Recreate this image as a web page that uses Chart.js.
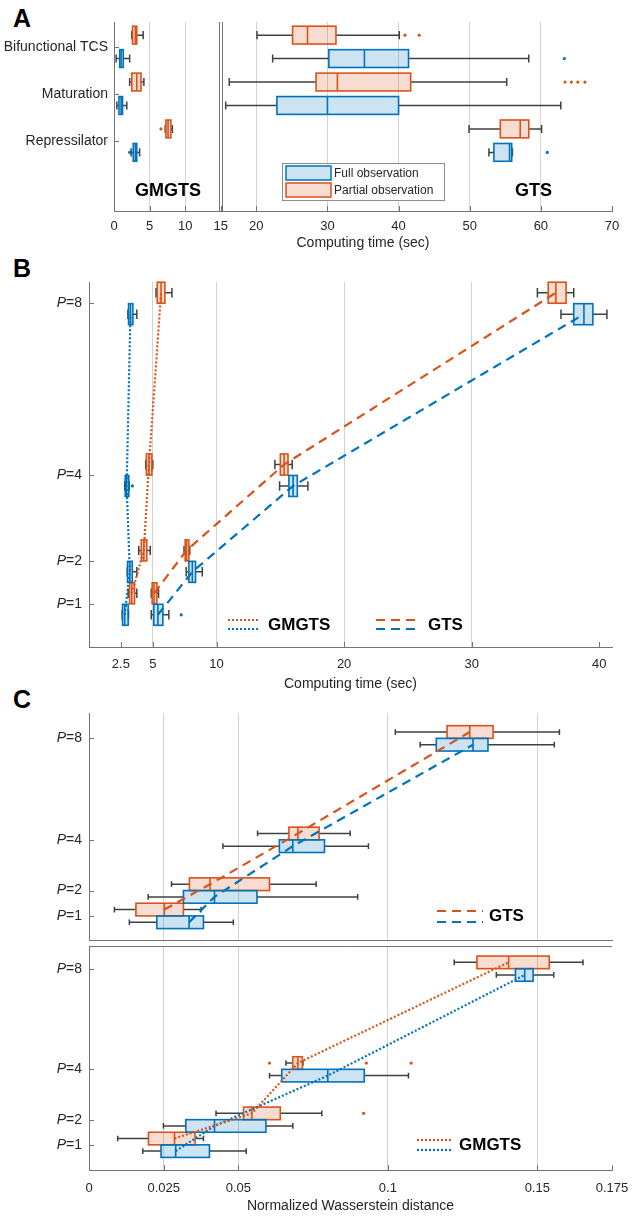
<!DOCTYPE html>
<html>
<head>
<meta charset="utf-8">
<script src="https://cdn.jsdelivr.net/npm/chart.js@4.4.1/dist/chart.umd.min.js"></script>
<style>
  body { margin: 0; background: #fff; width: 633px; height: 1218px; position: relative; overflow: hidden; }
  canvas { position: absolute; left: 0; }
  .letter { position: absolute; left: 13px; font: bold 25px "Liberation Sans", Arial, sans-serif; color: #000; line-height: 1; }
</style>
</head>
<body>
<div class="letter" style="top:6px">A</div>
<div class="letter" style="top:256px">B</div>
<div class="letter" style="top:687px">C</div>
<canvas id="chartA" width="633" height="252" style="top:0"></canvas>
<canvas id="chartB" width="633" height="450" style="top:250px"></canvas>
<canvas id="chartC1" width="633" height="245" style="top:700px"></canvas>
<canvas id="chartC2" width="633" height="276" style="top:942px"></canvas>
<script>
// ===== data =====
// every box row: [lower whisker, Q1, median, Q3, upper whisker]

// panel A - computing time per model
const aCategories = ['Bifunctional TCS', 'Maturation', 'Repressilator'];
const aTicks = [0, 5, 10, 15, 20, 30, 40, 50, 60, 70];
const aGrid = [5, 10, 20, 30, 40, 50, 60];
const aGmgtsPartial = [
    [2.5, 2.6, 3.0, 3.2, 4.1],
    [2.2, 2.5, 3.2, 3.8, 4.2],
    [7.2, 7.3, 7.6, 8.0, 8.2]
];
const aGmgtsFull = [
    [0.3, 0.8, 1.0, 1.3, 2.2],
    [0.4, 0.7, 1.0, 1.2, 1.8],
    [2.4, 2.7, 3.0, 3.2, 3.6]
];
const aGtsPartial = [
    [20.1, 25.1, 27.2, 31.2, 40.1],
    [16.2, 28.4, 31.4, 41.7, 55.2],
    [49.9, 54.3, 57.1, 58.3, 60.1]
];
const aGtsFull = [
    [22.3, 30.2, 35.2, 41.4, 58.3],
    [15.7, 22.9, 30.0, 40.0, 62.8],
    [52.7, 53.4, 55.6, 55.9, 56.0]
];
const aOutPartialX = [40.9, 42.9, 63.4, 64.3, 65.2, 66.2, 6.6];
const aOutPartialCat = [1, 1, 2, 2, 2, 2, 3];
const aOutFullX = [63.3, 2.2, 60.9];
const aOutFullCat = [1, 3, 3];

// panel B - computing time vs number of parallel workers P
const pValues = [1, 2, 4, 8];
const bTicks = [2.5, 5, 10, 20, 30, 40];
const bGrid = [5, 10, 20, 30];
const bGmgtsPartial = [
    [3.07, 3.18, 3.35, 3.57, 3.75],
    [3.9, 4.1, 4.3, 4.53, 4.8],
    [4.45, 4.5, 4.7, 4.93, 5.0],
    [5.25, 5.35, 5.65, 5.95, 6.5]
];
const bGmgtsFull = [
    [2.6, 2.63, 2.8, 3.07, 3.1],
    [3.0, 3.02, 3.2, 3.39, 3.75],
    [2.8, 2.84, 2.95, 3.12, 3.15],
    [3.05, 3.1, 3.25, 3.44, 3.75]
];
const bGtsPartial = [
    [4.88, 4.95, 5.1, 5.32, 5.45],
    [7.45, 7.54, 7.65, 7.83, 7.9],
    [14.57, 15.0, 15.3, 15.6, 15.93],
    [35.15, 36.0, 36.6, 37.4, 38.0]
];
const bGtsFull = [
    [4.88, 5.08, 5.4, 5.79, 6.26],
    [7.62, 7.83, 8.1, 8.35, 8.88],
    [14.94, 15.67, 16.0, 16.33, 17.16],
    [37.0, 38.0, 38.8, 39.5, 40.6]
];
const bOutFullX = [7.23, 3.4];
const bOutFullP = [1, 4];

// panel C - normalized Wasserstein distance
const cTicks = [0, 0.025, 0.05, 0.1, 0.15, 0.175];
const cGrid = [0.025, 0.05, 0.1, 0.15];
const cGtsPartial = [
    [0.0085, 0.0157, 0.0252, 0.0316, 0.0375],
    [0.0276, 0.0336, 0.0405, 0.0604, 0.0760],
    [0.0564, 0.0669, 0.0699, 0.0770, 0.0874],
    [0.1025, 0.1198, 0.1274, 0.1352, 0.1574]
];
const cGtsFull = [
    [0.0135, 0.0227, 0.0335, 0.0383, 0.0483],
    [0.0198, 0.0316, 0.0420, 0.0562, 0.0899],
    [0.0448, 0.0637, 0.0682, 0.0788, 0.0935],
    [0.1108, 0.1162, 0.1285, 0.1335, 0.1557]
];
const cGmgtsPartial = [
    [0.0096, 0.0199, 0.0286, 0.0355, 0.0383],
    [0.0425, 0.0517, 0.0545, 0.0640, 0.0779],
    [0.0659, 0.0682, 0.0699, 0.0714, 0.0716],
    [0.1222, 0.1298, 0.1404, 0.1540, 0.1653]
];
const cGmgtsFull = [
    [0.0180, 0.0241, 0.0290, 0.0403, 0.0526],
    [0.0249, 0.0324, 0.0420, 0.0592, 0.0682],
    [0.0604, 0.0645, 0.0799, 0.0921, 0.1069],
    [0.1363, 0.1427, 0.1458, 0.1486, 0.1555]
];
const cOutGmgtsPartialX = [0.0919, 0.0604, 0.0928, 0.1078];
const cOutGmgtsPartialP = [2, 4, 4, 4];

// ===== style =====
const ORANGE = '#D95319';
const BLUE = '#0072BD';
const ORANGE_FILL = 'rgba(217, 83, 25, 0.2)';
const BLUE_FILL = 'rgba(0, 114, 189, 0.2)';
const WHISKER = '#404040';
const AXIS = '#737373';
const GRID = '#d2d2d2';
const TEXT = '#262626';
const FONT = '"Liberation Sans", Arial, Helvetica, sans-serif';
const DOTTED = [2, 2];
const DASHED = [9, 6];

Chart.defaults.font.family = FONT;
Chart.defaults.font.size = 13;
Chart.defaults.color = TEXT;

// draws the box plots through the chart's own scales
function boxPlugin(groups) {
    return {
        id: 'boxes',
        beforeDatasetsDraw(chart) {
            const {ctx, scales: {x, y}} = chart;
            ctx.save();
            groups.forEach(g => {
                g.stats.forEach((s, i) => {
                    const pos = g.pos[i] + g.shift;
                    const yc = y.getPixelForValue(pos);
                    const h = Math.abs(y.getPixelForValue(pos + g.half) - yc);
                    const [lo, q1, med, q3, hi] = s.map(v => x.getPixelForValue(v));
                    const cap = h * 0.45;
                    ctx.strokeStyle = WHISKER;
                    ctx.lineWidth = 1.5;
                    ctx.beginPath();
                    ctx.moveTo(lo, yc); ctx.lineTo(q1, yc);
                    ctx.moveTo(q3, yc); ctx.lineTo(hi, yc);
                    ctx.moveTo(lo, yc - cap); ctx.lineTo(lo, yc + cap);
                    ctx.moveTo(hi, yc - cap); ctx.lineTo(hi, yc + cap);
                    ctx.stroke();
                    ctx.fillStyle = g.fill;
                    ctx.fillRect(q1, yc - h, q3 - q1, 2 * h);
                    ctx.strokeStyle = g.edge;
                    ctx.lineWidth = 1.6;
                    ctx.strokeRect(q1, yc - h, q3 - q1, 2 * h);
                    ctx.beginPath();
                    ctx.moveTo(med, yc - h); ctx.lineTo(med, yc + h);
                    ctx.stroke();
                });
            });
            ctx.restore();
        }
    };
}

// matlab-ish inward ticks, italic P labels, breaks and legends
function framePlugin(o) {
    return {
        id: 'frame',
        afterDraw(chart) {
            const {ctx, chartArea: a, scales: {x, y}} = chart;
            ctx.save();
            ctx.strokeStyle = AXIS;
            ctx.lineWidth = 1;
            ctx.beginPath();
            if (o.xTicks) {
                x.ticks.forEach(t => {
                    const px = Math.round(x.getPixelForValue(t.value)) + 0.5;
                    ctx.moveTo(px, a.bottom); ctx.lineTo(px, a.bottom - 5);
                });
            }
            y.ticks.forEach(t => {
                const py = Math.round(y.getPixelForValue(t.value)) + 0.5;
                ctx.moveTo(a.left, py); ctx.lineTo(a.left + 5, py);
            });
            if (o.topLine) {
                ctx.moveTo(a.left, a.top + 0.5); ctx.lineTo(a.right, a.top + 0.5);
            }
            if (o.breakAt !== undefined) {
                const px = Math.round(x.getPixelForValue(o.breakAt));
                ctx.moveTo(px - 1.5, a.top); ctx.lineTo(px - 1.5, a.bottom);
                ctx.moveTo(px + 1.5, a.top); ctx.lineTo(px + 1.5, a.bottom);
            }
            ctx.stroke();

            if (o.pLabels) {
                ctx.fillStyle = TEXT;
                ctx.textBaseline = 'middle';
                ctx.textAlign = 'left';
                y.ticks.forEach(t => {
                    const py = y.getPixelForValue(t.value);
                    const rest = '=' + t.value;
                    ctx.font = '14px ' + FONT;
                    const wRest = ctx.measureText(rest).width;
                    ctx.font = 'italic 14px ' + FONT;
                    const wP = ctx.measureText('P').width;
                    const x0 = a.left - 7 - wRest - wP;
                    ctx.fillText('P', x0, py);
                    ctx.font = '14px ' + FONT;
                    ctx.fillText(rest, x0 + wP, py);
                });
            }
            if (o.legend) o.legend(ctx, a);
            ctx.restore();
        }
    };
}

function lineKey(ctx, x0, x1, yOrange, yBlue, dash) {
    ctx.lineWidth = 2.2;
    ctx.setLineDash(dash);
    ctx.strokeStyle = ORANGE;
    ctx.beginPath(); ctx.moveTo(x0, yOrange); ctx.lineTo(x1, yOrange); ctx.stroke();
    ctx.strokeStyle = BLUE;
    ctx.beginPath(); ctx.moveTo(x0, yBlue); ctx.lineTo(x1, yBlue); ctx.stroke();
    ctx.setLineDash([]);
}

function boldLabel(ctx, text, x0, yc) {
    ctx.fillStyle = '#000';
    ctx.font = 'bold 17px ' + FONT;
    ctx.textAlign = 'left';
    ctx.textBaseline = 'middle';
    ctx.fillText(text, x0, yc);
}

function xAxis(min, max, ticks, grid, opts) {
    return {
        type: 'linear', min: min, max: max,
        afterBuildTicks: s => { s.ticks = ticks.map(v => ({value: v})); },
        afterFit: s => {
            s.height = opts.height;
            // keep the plot width fixed, the label overhang fits in the layout padding
            s.paddingLeft = 0;
            s.paddingRight = 0;
        },
        ticks: {display: opts.labels, padding: opts.pad || 8, callback: v => String(v), maxRotation: 0, autoSkip: false, font: {size: 13}},
        grid: {drawTicks: false, color: c => grid.includes(c.tick.value) ? GRID : 'rgba(0,0,0,0)'},
        border: {color: AXIS, width: 1},
        title: opts.title ? {display: true, text: opts.title, padding: 0, font: {size: 14}, color: TEXT} : {display: false}
    };
}

function pAxis(min, max) {
    return {
        type: 'linear', min: min, max: max,
        afterBuildTicks: s => { s.ticks = pValues.map(v => ({value: v})); },
        afterFit: s => { s.width = 89; },
        ticks: {display: false},
        grid: {display: false, drawTicks: false},
        border: {color: AXIS, width: 1}
    };
}

function medianLine(stats, pos, shift, color, dash) {
    return {
        type: 'line',
        data: stats.map((s, i) => ({x: s[2], y: pos[i] + shift})),
        borderColor: color, borderWidth: 2.2, borderDash: dash,
        pointRadius: 0, fill: false, showLine: true, tension: 0
    };
}

function outliers(xs, pos, shift, color) {
    return {
        type: 'scatter',
        data: xs.map((v, i) => ({x: v, y: pos[i] + shift})),
        backgroundColor: color, borderWidth: 0, pointRadius: 1.6
    };
}

const baseOptions = {
    responsive: false,
    animation: false,
    events: [],
    plugins: {legend: {display: false}, tooltip: {enabled: false}}
};

// ===== panel A =====
new Chart(document.getElementById('chartA'), {
    type: 'scatter',
    data: {
        datasets: [
            outliers(aOutPartialX, aOutPartialCat, -0.25, ORANGE),
            outliers(aOutFullX, aOutFullCat, 0.25, BLUE)
        ]
    },
    options: {
        ...baseOptions,
        layout: {padding: {top: 22, right: 21, bottom: 0, left: 0}},
        scales: {
            x: xAxis(0, 70, aTicks, aGrid, {height: 41, labels: true, title: 'Computing time (sec)'}),
            y: {
                type: 'linear', reverse: true, min: 0.47, max: 4.5,
                afterBuildTicks: s => { s.ticks = [1, 2, 3].map(v => ({value: v})); },
                afterFit: s => { s.width = 114; },
                ticks: {padding: 6, callback: v => aCategories[v - 1], font: {size: 14}},
                grid: {display: false, drawTicks: false},
                border: {color: AXIS, width: 1}
            }
        }
    },
    plugins: [
        boxPlugin([
            {stats: aGmgtsPartial, pos: [1, 2, 3], shift: -0.25, half: 0.19, edge: ORANGE, fill: ORANGE_FILL},
            {stats: aGmgtsFull, pos: [1, 2, 3], shift: 0.25, half: 0.19, edge: BLUE, fill: BLUE_FILL},
            {stats: aGtsPartial, pos: [1, 2, 3], shift: -0.25, half: 0.19, edge: ORANGE, fill: ORANGE_FILL},
            {stats: aGtsFull, pos: [1, 2, 3], shift: 0.25, half: 0.19, edge: BLUE, fill: BLUE_FILL}
        ]),
        framePlugin({
            xTicks: true,
            breakAt: 15,
            legend: (ctx, a) => {
                ctx.fillStyle = '#fff';
                ctx.fillRect(282.5, 163.5, 162, 37);
                ctx.strokeStyle = '#8c8c8c';
                ctx.lineWidth = 1;
                ctx.strokeRect(282.5, 163.5, 162, 37);
                ctx.lineWidth = 1.5;
                ctx.fillStyle = BLUE_FILL; ctx.fillRect(286, 166, 45, 14);
                ctx.strokeStyle = BLUE; ctx.strokeRect(286, 166, 45, 14);
                ctx.fillStyle = ORANGE_FILL; ctx.fillRect(286, 183, 45, 14);
                ctx.strokeStyle = ORANGE; ctx.strokeRect(286, 183, 45, 14);
                ctx.fillStyle = TEXT;
                ctx.font = '12px ' + FONT;
                ctx.textAlign = 'left';
                ctx.textBaseline = 'middle';
                ctx.fillText('Full observation', 334, 173.5);
                ctx.fillText('Partial observation', 334, 190.5);
                ctx.font = 'bold 18px ' + FONT;
                ctx.fillStyle = '#000';
                ctx.fillText('GMGTS', 135, 191);
                ctx.fillText('GTS', 515, 191);
            }
        })
    ]
});

// ===== panel B =====
new Chart(document.getElementById('chartB'), {
    type: 'scatter',
    data: {
        datasets: [
            medianLine(bGmgtsPartial, pValues, 0.25, ORANGE, DOTTED),
            medianLine(bGmgtsFull, pValues, -0.25, BLUE, DOTTED),
            medianLine(bGtsPartial, pValues, 0.25, ORANGE, DASHED),
            medianLine(bGtsFull, pValues, -0.25, BLUE, DASHED),
            outliers(bOutFullX, bOutFullP, -0.25, BLUE)
        ]
    },
    options: {
        ...baseOptions,
        layout: {padding: {top: 32, right: 21, bottom: 7, left: 0}},
        scales: {
            x: xAxis(0, 41, bTicks, bGrid, {height: 46, labels: true, pad: 10, title: 'Computing time (sec)'}),
            y: pAxis(0, 8.5)
        }
    },
    plugins: [
        boxPlugin([
            {stats: bGmgtsPartial, pos: pValues, shift: 0.25, half: 0.245, edge: ORANGE, fill: ORANGE_FILL},
            {stats: bGmgtsFull, pos: pValues, shift: -0.25, half: 0.245, edge: BLUE, fill: BLUE_FILL},
            {stats: bGtsPartial, pos: pValues, shift: 0.25, half: 0.245, edge: ORANGE, fill: ORANGE_FILL},
            {stats: bGtsFull, pos: pValues, shift: -0.25, half: 0.245, edge: BLUE, fill: BLUE_FILL}
        ]),
        framePlugin({
            xTicks: true,
            pLabels: true,
            legend: ctx => {
                lineKey(ctx, 228, 260, 370, 379, DOTTED);
                boldLabel(ctx, 'GMGTS', 268, 375);
                lineKey(ctx, 376, 421, 370, 379, DASHED);
                boldLabel(ctx, 'GTS', 428, 375);
            }
        })
    ]
});

// ===== panel C, top part (GTS) =====
new Chart(document.getElementById('chartC1'), {
    type: 'scatter',
    data: {
        datasets: [
            medianLine(cGtsPartial, pValues, 0.25, ORANGE, DASHED),
            medianLine(cGtsFull, pValues, -0.25, BLUE, DASHED)
        ]
    },
    options: {
        ...baseOptions,
        layout: {padding: {top: 13, right: 21, bottom: 5, left: 0}},
        scales: {
            x: xAxis(0, 0.175, cTicks, cGrid, {height: 0, labels: false}),
            y: pAxis(0.05, 9)
        }
    },
    plugins: [
        boxPlugin([
            {stats: cGtsPartial, pos: pValues, shift: 0.25, half: 0.25, edge: ORANGE, fill: ORANGE_FILL},
            {stats: cGtsFull, pos: pValues, shift: -0.25, half: 0.25, edge: BLUE, fill: BLUE_FILL}
        ]),
        framePlugin({
            xTicks: false,
            pLabels: true,
            legend: ctx => {
                lineKey(ctx, 437, 483, 211, 222, DASHED);
                boldLabel(ctx, 'GTS', 489, 216.5);
            }
        })
    ]
});

// ===== panel C, bottom part (GMGTS) =====
new Chart(document.getElementById('chartC2'), {
    type: 'scatter',
    data: {
        datasets: [
            medianLine(cGmgtsPartial, pValues, 0.25, ORANGE, DOTTED),
            medianLine(cGmgtsFull, pValues, -0.25, BLUE, DOTTED),
            outliers(cOutGmgtsPartialX, cOutGmgtsPartialP, 0.25, ORANGE)
        ]
    },
    options: {
        ...baseOptions,
        layout: {padding: {top: 2, right: 21, bottom: 3, left: 0}},
        scales: {
            x: xAxis(0, 0.175, cTicks, cGrid, {height: 45, labels: true, pad: 11, title: 'Normalized Wasserstein distance'}),
            y: pAxis(0, 8.9)
        }
    },
    plugins: [
        boxPlugin([
            {stats: cGmgtsPartial, pos: pValues, shift: 0.25, half: 0.25, edge: ORANGE, fill: ORANGE_FILL},
            {stats: cGmgtsFull, pos: pValues, shift: -0.25, half: 0.25, edge: BLUE, fill: BLUE_FILL}
        ]),
        framePlugin({
            xTicks: true,
            pLabels: true,
            topLine: true,
            legend: ctx => {
                lineKey(ctx, 417, 452, 198, 208, DOTTED);
                boldLabel(ctx, 'GMGTS', 459, 203);
            }
        })
    ]
});
</script>
</body>
</html>
